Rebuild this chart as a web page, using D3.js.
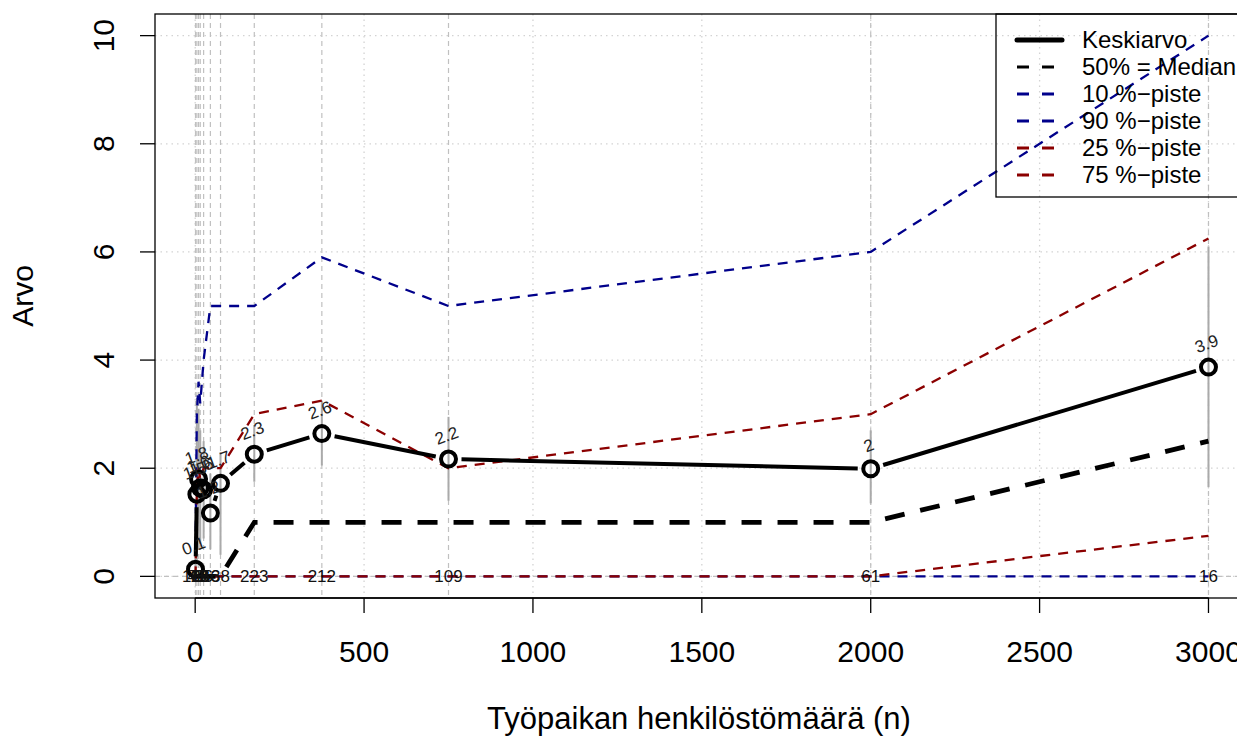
<!DOCTYPE html>
<html><head><meta charset="utf-8">
<script src="https://cdn.jsdelivr.net/npm/d3@7/dist/d3.min.js"></script>
<style>body{margin:0;background:#fff}svg{display:block;font-family:"Liberation Sans",Arial,sans-serif}</style>
</head><body><svg id="c" width="1237" height="738"></svg>
<script>
const sizes   = [1, 5, 10, 15, 25, 45, 75, 175, 375, 750, 2000, 3000];
const means   = [0.13, 1.52, 1.8, 1.64, 1.6, 1.17, 1.72, 2.26, 2.64, 2.17, 1.99, 3.87];
const medians = [0, 0, 0, 0, 0, 0, 0, 1, 1, 1, 1, 2.5];
const p10     = [0, 0, 0, 0, 0, 0, 0, 0, 0, 0, 0, 0];
const p90     = [0.5, 3, 3.6, 3.2, 4, 5, 5, 5, 5.9, 5, 6, 10];
const p25     = [0, 0, 0, 0, 0, 0, 0, 0, 0, 0, 0, 0.75];
const p75     = [0, 1.6, 2, 1.8, 2, 2, 2, 3, 3.25, 2, 3, 6.25];
const ciLow   = [0, 0.3, 0.5, 0.6, 0.7, 0.5, 0.4, 1.75, 2.05, 1.4, 1.35, 1.65];
const ciHigh  = [0.5, 3.3, 3.1, 2.7, 2.5, 1.9, 2.3, 2.8, 3.25, 2.95, 2.7, 6.1];
const counts  = ["118", "45", "72", "63", "86", "56", "38", "223", "212", "109", "61", "16"];
const meanLabels = ["0.1", "1.5", "1.8", "1.6", "1.6", "1.2", "1.7", "2.3", "2.6", "2.2", "2", "3.9"];
const xTicks = [0, 500, 1000, 1500, 2000, 2500, 3000];
const yTicks = [0, 2, 4, 6, 8, 10];
const legendLabels = ["Keskiarvo", "50% = Median", "10 %\u2212piste", "90 %\u2212piste", "25 %\u2212piste", "75 %\u2212piste"];

const svg = d3.select("#c");
const L = 155, R = 1249, T = 14, B = 598;
const x = d3.scaleLinear().domain([1 - 0.04 * 2999, 3000 + 0.04 * 2999]).range([L, R]);
const y = d3.scaleLinear().domain([-0.4, 10.4]).range([B, T]);
const blue = "#00008B", red = "#8B0000";

const g = svg.append("g");
// dotted grid
g.selectAll(".gx").data(xTicks).join("line")
  .attr("x1", d => x(d)).attr("x2", d => x(d)).attr("y1", T).attr("y2", B)
  .attr("stroke", "#d3d3d3").attr("stroke-width", 1.3).attr("stroke-dasharray", "1.5,4");
g.selectAll(".gy").data(yTicks).join("line")
  .attr("x1", L).attr("x2", R).attr("y1", d => y(d)).attr("y2", d => y(d))
  .attr("stroke", "#d3d3d3").attr("stroke-width", 1.3).attr("stroke-dasharray", "1.5,4");
// category dashed lines
g.selectAll(".gc").data(sizes).join("line")
  .attr("x1", d => x(d)).attr("x2", d => x(d)).attr("y1", T).attr("y2", B)
  .attr("stroke", "#c0c0c0").attr("stroke-width", 1.2).attr("stroke-dasharray", "5,4");
g.append("line").attr("x1", L).attr("x2", R).attr("y1", y(0)).attr("y2", y(0))
  .attr("stroke", "#c0c0c0").attr("stroke-width", 1.2).attr("stroke-dasharray", "5,4");

const line = arr => d3.line().x((d, i) => x(sizes[i])).y(d => y(d))(arr);
function pl(arr, col, w, dash) {
  g.append("path").attr("d", line(arr)).attr("fill", "none").attr("stroke", col)
    .attr("stroke-width", w).attr("stroke-dasharray", dash);
}
// CI gray lines
g.selectAll(".ci").data(sizes).join("line")
  .attr("x1", d => x(d)).attr("x2", d => x(d))
  .attr("y1", (d, i) => y(ciLow[i])).attr("y2", (d, i) => y(ciHigh[i]))
  .attr("stroke", "#aaaaaa").attr("stroke-width", 2);

pl(p10, blue, 2.3, "10,8");
pl(p90, blue, 2.3, "10,8");
pl(p25, red, 2.3, "10,8");
pl(p75, red, 2.3, "10,8");
pl(medians, "#000", 4.8, "20,16");

// mean line type "b"
const gap = 13;
for (let i = 0; i < sizes.length - 1; i++) {
  const x1 = x(sizes[i]), y1 = y(means[i]), x2 = x(sizes[i + 1]), y2 = y(means[i + 1]);
  const len = Math.hypot(x2 - x1, y2 - y1);
  if (len <= 2 * gap) continue;
  const ux = (x2 - x1) / len, uy = (y2 - y1) / len;
  g.append("line").attr("x1", x1 + ux * gap).attr("y1", y1 + uy * gap)
    .attr("x2", x2 - ux * gap).attr("y2", y2 - uy * gap)
    .attr("stroke", "#000").attr("stroke-width", 4);
}
g.selectAll(".pt").data(sizes).join("circle")
  .attr("cx", d => x(d)).attr("cy", (d, i) => y(means[i])).attr("r", 7.5)
  .attr("fill", "none").attr("stroke", "#000").attr("stroke-width", 4);

// mean labels
g.selectAll(".ml").data(sizes).join("text")
  .attr("transform", (d, i) => `translate(${x(d)},${y(means[i]) - 18}) rotate(-20)`)
  .attr("text-anchor", "middle").attr("font-size", 17).attr("fill", "#222")
  .text((d, i) => meanLabels[i]);
// count labels
g.selectAll(".cl").data(sizes).join("text")
  .attr("x", d => x(d)).attr("y", y(0) + 6)
  .attr("text-anchor", "middle").attr("font-size", 17).attr("fill", "#111")
  .text((d, i) => counts[i]);

// box
svg.append("rect").attr("x", L).attr("y", T).attr("width", R - L).attr("height", B - T)
  .attr("fill", "none").attr("stroke", "#000").attr("stroke-width", 1.3);

// axes
const xa = svg.append("g");
xa.append("line").attr("x1", x(0)).attr("x2", x(3000)).attr("y1", B).attr("y2", B).attr("stroke", "#000").attr("stroke-width", 1.3);
xa.selectAll(".t").data(xTicks).join("line").attr("x1", d => x(d)).attr("x2", d => x(d))
  .attr("y1", B).attr("y2", B + 15).attr("stroke", "#000").attr("stroke-width", 1.3);
xa.selectAll(".tl").data(xTicks).join("text").attr("x", d => x(d)).attr("y", 662)
  .attr("text-anchor", "middle").attr("font-size", 30).text(d => d);
const ya = svg.append("g");
ya.selectAll(".t").data(yTicks).join("line").attr("x1", L).attr("x2", L - 15)
  .attr("y1", d => y(d)).attr("y2", d => y(d)).attr("stroke", "#000").attr("stroke-width", 1.3);
ya.selectAll(".tl").data(yTicks).join("text")
  .attr("transform", d => `translate(114,${y(d)}) rotate(-90)`)
  .attr("text-anchor", "middle").attr("font-size", 30).text(d => d);

svg.append("text").attr("x", 699).attr("y", 729).attr("text-anchor", "middle")
  .attr("font-size", 31).text("Työpaikan henkilöstömäärä (n)");
svg.append("text").attr("transform", "translate(33,296) rotate(-90)").attr("text-anchor", "middle")
  .attr("font-size", 30).text("Arvo");

// legend (transparent background, like R)
const lg = svg.append("g");
lg.append("rect").attr("x", 996).attr("y", T).attr("width", R - 996).attr("height", 183)
  .attr("fill", "none").attr("stroke", "#000").attr("stroke-width", 1.3);
const legCols = ["#000", "#000", blue, blue, red, red];
const legW = [5, 3, 3, 3, 3, 3];
const legDash = [null, "12,13", "12,13", "12,13", "12,13", "12,13"];
legendLabels.forEach((lab, i) => {
  const yy = 40 + i * 27;
  lg.append("line").attr("x1", 1017).attr("x2", i === 0 ? 1062 : 1065).attr("y1", yy).attr("y2", yy)
    .attr("stroke", legCols[i]).attr("stroke-width", legW[i])
    .attr("stroke-linecap", i === 0 ? "round" : "butt")
    .attr("stroke-dasharray", legDash[i]);
  lg.append("text").attr("x", 1082).attr("y", yy + 8).attr("font-size", 24).text(lab);
});
</script></body></html>
